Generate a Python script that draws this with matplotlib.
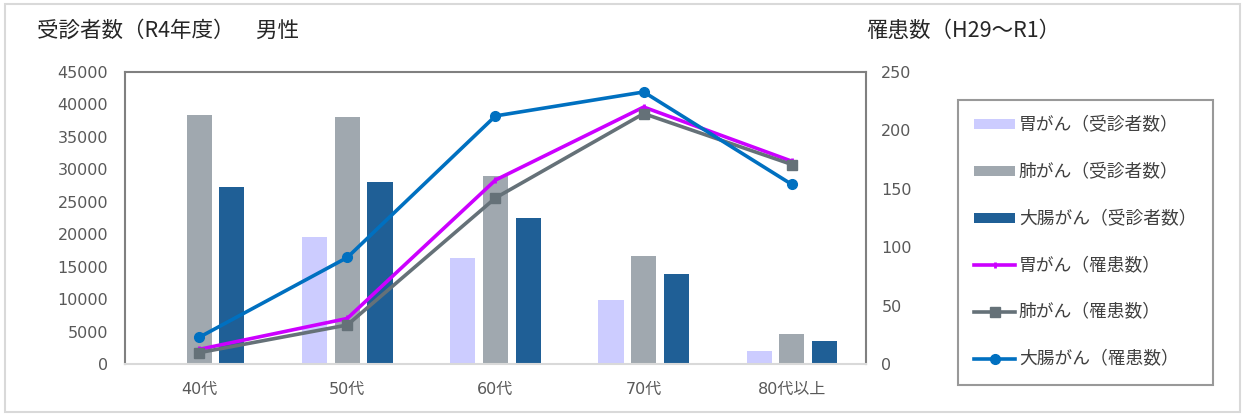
import matplotlib
matplotlib.use("Agg")
import matplotlib.pyplot as plt
from matplotlib.lines import Line2D
from matplotlib.patches import Patch, Rectangle
import numpy as np

plt.rcParams['font.family'] = ['Noto Sans CJK JP', 'DejaVu Sans']
num_family = ['DejaVu Sans', 'Noto Sans CJK JP']

categories = ["40代", "50代", "60代", "70代", "80代以上"]
stomach_exam = [0, 19550, 16380, 9860, 2000]
lung_exam = [38380, 38100, 28970, 16690, 4550]
colon_exam = [27330, 28100, 22550, 13870, 3540]
stomach_cases = [12.5, 39, 157.5, 220, 173.6]
lung_cases = [9.7, 33.4, 142.2, 214.4, 170.8]
colon_cases = [22.8, 91.2, 212.4, 232.9, 153.7]

left_ticks = [0, 5000, 10000, 15000, 20000, 25000, 30000, 35000, 40000, 45000]
right_ticks = [0, 50, 100, 150, 200, 250]

labels = ["胃がん（受診者数）", "肺がん（受診者数）", "大腸がん（受診者数）",
          "胃がん（罹患数）", "肺がん（罹患数）", "大腸がん（罹患数）"]

c_st_bar = "#CCCCFF"
c_lu_bar = "#A0A8AF"
c_co_bar = "#1F5F96"
c_st_line = "#CC00FF"
c_lu_line = "#657178"
c_co_line = "#0070C0"
tick_color = "#595959"

fig = plt.figure(figsize=(12.46, 4.2), dpi=100)
fig.patches.append(Rectangle((0.004, 0.02), 0.991, 0.97, transform=fig.transFigure,
                             fill=False, edgecolor="#D9D9D9", lw=1.5))

ax = fig.add_axes([125/1246, 56/420, 741/1246, 292/420])
x = np.arange(len(categories))
bw = 0.17
off = 0.22
ax.bar(x - off, stomach_exam, bw, color=c_st_bar)
ax.bar(x, lung_exam, bw, color=c_lu_bar)
ax.bar(x + off, colon_exam, bw, color=c_co_bar)
ax.set_xlim(-0.5, 4.5)
ax.set_ylim(0, 45000)
ax.set_yticks(left_ticks)
ax.set_yticklabels([str(v) for v in left_ticks], family=num_family)
ax.set_xticks(x)
ax.set_xticklabels(categories, family=num_family)
ax.tick_params(axis='both', length=0, colors=tick_color, labelsize=11.5)
ax.tick_params(axis='y', pad=12)
ax.tick_params(axis='x', pad=13)
for s in ['top', 'left', 'right']:
    ax.spines[s].set_color("#808080")
    ax.spines[s].set_linewidth(1.5)
ax.spines['bottom'].set_color("#D9D9D9")
ax.spines['bottom'].set_linewidth(1.5)

ax2 = ax.twinx()
ax2.plot(x, stomach_cases, color=c_st_line, lw=2.6, marker='|', ms=5, mew=2)
ax2.plot(x, lung_cases, color=c_lu_line, lw=2.6, marker='s', ms=7)
ax2.plot(x, colon_cases, color=c_co_line, lw=2.6, marker='o', ms=7)
ax2.set_ylim(0, 250)
ax2.set_yticks(right_ticks)
ax2.set_yticklabels([str(v) for v in right_ticks], family=num_family)
ax2.tick_params(axis='y', length=0, colors=tick_color, labelsize=11.5, pad=11)
for s in ax2.spines.values():
    s.set_visible(False)

fig.text(37/1246, 1 - 31/420, "受診者数（R4年度）　男性", fontsize=15.5, color="#262626",
         va='center', ha='left')
fig.text(866/1246, 1 - 31/420, "罹患数（H29～R1）", fontsize=15.5, color="#262626",
         va='center', ha='left')

handles = [
    Patch(facecolor=c_st_bar, edgecolor='none'),
    Patch(facecolor=c_lu_bar, edgecolor='none'),
    Patch(facecolor=c_co_bar, edgecolor='none'),
    Line2D([], [], color=c_st_line, lw=2.6, marker='|', ms=5, mew=2),
    Line2D([], [], color=c_lu_line, lw=2.6, marker='s', ms=7),
    Line2D([], [], color=c_co_line, lw=2.6, marker='o', ms=7),
]
leg = fig.legend(handles, labels, loc='upper left',
                 bbox_to_anchor=(958/1246, 1 - 100/420), fontsize=12.8,
                 frameon=True, fancybox=False, edgecolor="#808080",
                 handlelength=2.3, handleheight=0.5, handletextpad=0.2,
                 labelspacing=1.62, borderpad=0.92, borderaxespad=0)
leg.get_frame().set_linewidth(1.5)
for t in leg.get_texts():
    t.set_color("#404040")

fig.savefig("out.png", dpi=100)
